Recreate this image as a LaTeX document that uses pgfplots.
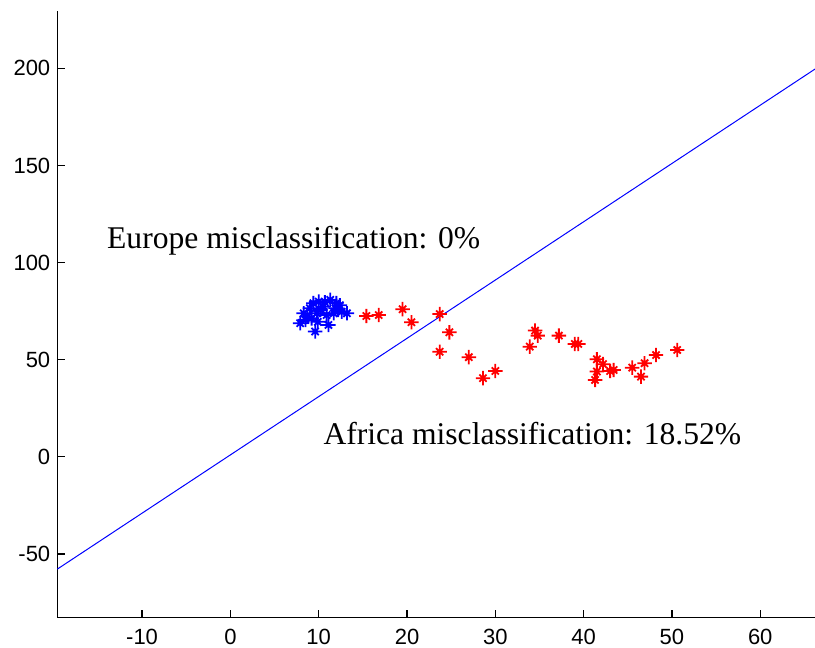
\documentclass[border=0pt]{standalone}
\usepackage{fontspec}
\setmainfont{Liberation Serif}
\newfontfamily\ticksf{Liberation Sans}
\usepackage{pgfplots}
\pgfplotsset{compat=1.18}
\pgfdeclareplotmark{mstar}{%
  \pgfpathmoveto{\pgfqpoint{-\pgfplotmarksize}{0pt}}%
  \pgfpathlineto{\pgfqpoint{\pgfplotmarksize}{0pt}}%
  \pgfpathmoveto{\pgfqpoint{0pt}{-\pgfplotmarksize}}%
  \pgfpathlineto{\pgfqpoint{0pt}{\pgfplotmarksize}}%
  \pgfpathmoveto{\pgfqpoint{-0.5\pgfplotmarksize}{-0.5\pgfplotmarksize}}%
  \pgfpathlineto{\pgfqpoint{0.5\pgfplotmarksize}{0.5\pgfplotmarksize}}%
  \pgfpathmoveto{\pgfqpoint{-0.5\pgfplotmarksize}{0.5\pgfplotmarksize}}%
  \pgfpathlineto{\pgfqpoint{0.5\pgfplotmarksize}{-0.5\pgfplotmarksize}}%
  \pgfusepathqstroke}
\begin{document}
\begin{tikzpicture}
\begin{axis}[
  name=ax,
  scale only axis,
  width=378.85pt, height=303.35pt,
  xmin=-19.6, xmax=66.2,
  ymin=-82.8, ymax=229.5,
  axis lines*=left,
  axis line style={black, line width=0.6pt},
  tick align=inside,
  major tick length=4pt,
  tick style={black, line width=0.6pt},
  xtick={-10,0,...,60},
  ytick={-50,0,...,200},
  /pgf/number format/assume math mode=true,
  ticklabel style={font=\ticksf\fontsize{11}{13}\selectfont},
  xticklabel style={yshift=-2pt},
  clip=false,
]
\addplot[blue, line width=0.5pt] coordinates {(-19.6,-57.8) (66.2,199.6)};
\addplot[only marks, blue, mark=mstar, mark size=3.6pt, line width=0.9pt] coordinates {
(7.9,68.8) (9.6,64.5) (11.1,67.9) (8.3,73.9) (9.0,76.5) (10.0,79.9) (11.3,80.8)
(12.0,79.1) (12.6,74.7) (13.2,73.9) (11.7,73.9) (10.2,75.6) (9.2,71.3) (8.7,72.2)
(10.5,77.3) (9.4,79.1) (12.2,75.6) (11.9,76.5) (9.8,73.9) (10.9,73.0) (8.5,70.5)
(12.4,78.0) (10.7,79.5) (9.9,69.5)
};
\addplot[only marks, red, mark=mstar, mark size=3.6pt, line width=0.9pt] coordinates {
(15.4,72.5) (16.8,73.0) (19.5,76.0) (20.5,69.3) (23.7,73.5) (24.8,64.1) (23.7,54.1)
(27.0,51.3) (28.6,40.5) (30.0,44.2) (34.5,65.0) (34.8,62.4) (33.9,56.7) (37.2,62.4)
(39.0,58.1) (39.4,58.1) (41.5,50.2) (42.2,47.7) (41.5,43.9) (41.3,39.6) (43.4,44.7)
(43.0,44.2) (45.5,45.9) (46.9,48.2) (46.5,41.3) (48.2,52.4) (50.6,55.0)
};
\node[anchor=west, inner sep=0pt, font=\fontsize{15.8}{18}\selectfont] at (axis cs:-14.0,111) {Europe misclassification: 0\%};
\node[anchor=west, inner sep=0pt, font=\fontsize{15.8}{18}\selectfont] at (axis cs:10.5,11.8) {Africa misclassification: 18.52\%};
\end{axis}
\pgfresetboundingbox
\useasboundingbox ([shift={(-28.65pt,-15.15pt)}]ax.south west) rectangle ([shift={(378.85pt,308.85pt)}]ax.south west);
\end{tikzpicture}
\end{document}
